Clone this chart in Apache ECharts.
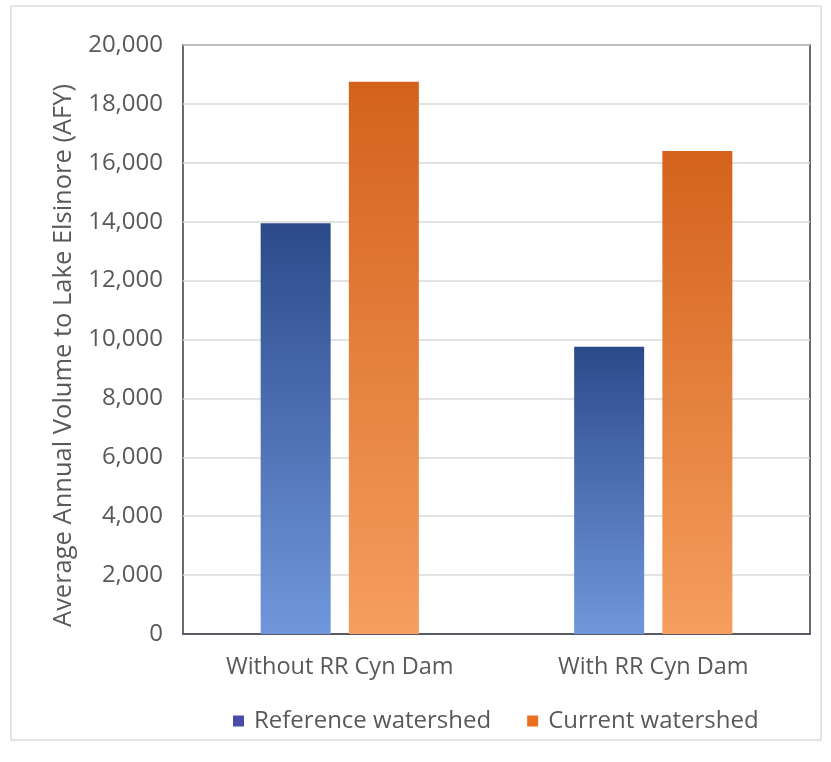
<!DOCTYPE html>
<html>
<head>
<meta charset="utf-8">
<script src="https://cdn.jsdelivr.net/npm/echarts@6/dist/echarts.min.js"></script>
<style>
  html, body { margin: 0; padding: 0; background: #fff; }
  #chart { width: 831px; height: 762px; }
</style>
</head>
<body>
<div id="chart"></div>
<script>
// ── DATA ───────────────────────────────────────────
const categories = ['Without RR Cyn Dam', 'With RR Cyn Dam'];
const referenceValues = [13950, 9750];
const currentValues = [18750, 16400];
const seriesNames = ['Reference watershed', 'Current watershed'];

const FONT = '"Open Sans", "Noto Sans", sans-serif';
const TEXT = '#595959';

function grad(top, bottom) {
  return new echarts.graphic.LinearGradient(0, 0, 0, 1, [
    { offset: 0, color: top },
    { offset: 1, color: bottom },
  ]);
}

const chart = echarts.init(document.getElementById('chart'));

chart.setOption({
  backgroundColor: '#fff',
  animation: false,
  graphic: [{
    type: 'rect', shape: { x: 11, y: 6, width: 810, height: 734 },
    style: { fill: 'none', stroke: '#e4e4e4', lineWidth: 2 }, silent: true,
  }],
  grid: { left: 183, right: 21, top: 45, bottom: 128, show: true, borderColor: '#3a3a4a', borderWidth: 1.5 },
  legend: {
    bottom: 24, left: 228, itemWidth: 11, itemHeight: 11, itemGap: 36,
    icon: 'rect',
    textStyle: { fontFamily: FONT, fontSize: 24, color: TEXT, padding: [0, 0, 0, 5] },
    data: [
      { name: seriesNames[0], itemStyle: { color: '#4a4aa8' } },
      { name: seriesNames[1], itemStyle: { color: '#e8701f' } },
    ],
  },
  xAxis: {
    type: 'category', data: categories,
    axisLine: { lineStyle: { color: '#3a3a4a', width: 1.5 } },
    axisTick: { show: false },
    axisLabel: { fontFamily: FONT, fontSize: 23.5, color: TEXT, margin: 21 },
  },
  yAxis: {
    type: 'value', min: 0, max: 20000, interval: 2000,
    name: 'Average Annual Volume to Lake Elsinore (AFY)',
    nameLocation: 'middle', nameGap: 106, nameRotate: 90,
    nameTextStyle: { fontFamily: FONT, fontSize: 25.5, color: TEXT, padding: [0, 32, 0, 0] },
    axisLine: { show: false },
    axisTick: { show: false },
    axisLabel: {
      fontFamily: FONT, fontSize: 24, color: TEXT, margin: 20,
      formatter: v => v.toLocaleString('en-US'),
    },
    splitLine: { lineStyle: { color: '#d9d9d9', width: 1.5 } },
  },
  series: [
    {
      name: seriesNames[0], type: 'bar', data: referenceValues,
      barWidth: 70, barGap: '26%',
      itemStyle: { color: grad('#2c4a8a', '#7097dc') },
    },
    {
      name: seriesNames[1], type: 'bar', data: currentValues,
      barWidth: 70,
      itemStyle: { color: grad('#d4621c', '#f59e5e') },
    },
  ],
});
</script>
</body>
</html>
